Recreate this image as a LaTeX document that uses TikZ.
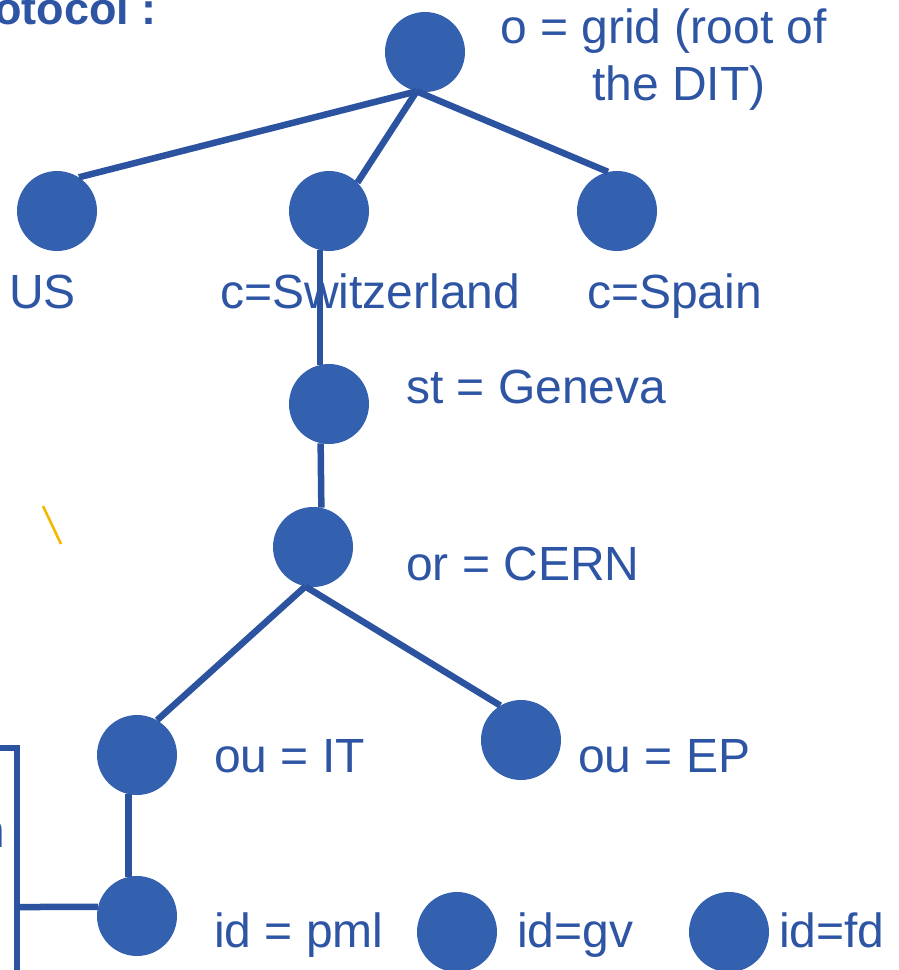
\documentclass[tikz,border=0pt]{standalone}
\usepackage{fontspec}
\setmainfont{Liberation Sans}
\definecolor{nodefill}{RGB}{52,96,176}
\definecolor{edgecol}{RGB}{44,83,160}
\definecolor{txtcol}{RGB}{46,84,164}
\definecolor{goldcol}{RGB}{245,184,0}
\tikzset{
  dnode/.style={circle, fill=nodefill, draw=none, minimum size=80pt, inner sep=0pt},
  edge/.style={draw=edgecol, line width=6.5pt},
  lbl/.style={anchor=base west, inner sep=0pt, text=txtcol, font=\fontsize{48}{57}\selectfont},
}
\begin{document}
\begin{tikzpicture}[x=1pt, y=-1pt]
\useasboundingbox (0,0) rectangle (899,970);
\clip (0,0) rectangle (899,970);

% nodes
\node[dnode] (root) at (425,52) {};
\node[dnode] (us) at (57,211) {};
\node[dnode] (ch) at (329,211) {};
\node[dnode] (es) at (617,211) {};
\node[dnode] (ge) at (329,404) {};
\node[dnode] (cern) at (313,547) {};
\node[dnode] (it) at (137,755) {};
\node[dnode] (ep) at (521,740) {};
\node[dnode] (pml) at (137,916) {};
\node[dnode] (gv) at (457,932) {};
\node[dnode] (fd) at (729,932) {};

% edges
\draw[edge] (root.258) -- (us.57);
\draw[edge] (root.258) -- (ch.45);
\draw[edge] (root.258) -- (es.103);
\draw[edge] (ch.257) -- (ge.103);
\draw[edge] (ge.258) -- (cern.78);
\draw[edge] (cern.259) -- (it.60);
\draw[edge] (cern.259) -- (ep.121);
\draw[edge] (it.258) -- (pml.102);

% left bracket
\coordinate (b0) at (-5,748);
\coordinate (b1) at (17,748);
\coordinate (b2) at (17,980);
\coordinate (b3) at (17,907);
\draw[edge] (b0) -- (b1) -- (b2);
\draw[edge] (b3) -- (pml.167);

% yellow stroke
\coordinate (y0) at (43,506);
\coordinate (y1) at (61,544);
\draw[goldcol, line width=2.6pt] (y0) -- (y1);

% labels
\node[lbl, anchor=base east, font=\fontsize{45}{54}\selectfont\bfseries] (title) at (157,24) {Protocol :};
\node[lbl] (troot1) at (500,43) {o = grid (root of};
\node[lbl] (troot2) at (592,100) {the DIT)};
\node[lbl] (tus) at (9,308) {US};
\node[lbl] (tch) at (220,308) {c=Switzerland};
\node[lbl] (tes) at (587,308) {c=Spain};
\node[lbl] (tge) at (406,403) {st = Geneva};
\node[lbl] (tcern) at (406,580) {or = CERN};
\node[lbl] (tit) at (214,772) {ou = IT};
\node[lbl] (tep) at (578,772) {ou = EP};
\node[lbl] (tpml) at (214,947) {id = pml};
\node[lbl] (tgv) at (517,947) {id=gv};
\node[lbl] (tfd) at (779,947) {id=fd};
\node[lbl] (tn) at (-22,847) {n};
\end{tikzpicture}
\end{document}
